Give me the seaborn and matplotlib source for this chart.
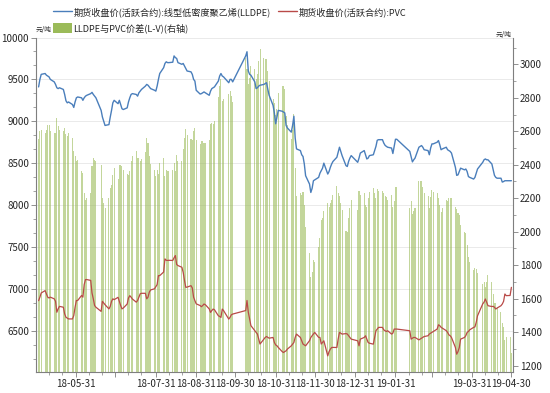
import pandas as pd
import matplotlib
matplotlib.use('Agg')
import matplotlib.pyplot as plt
import matplotlib.dates as mdates
from matplotlib.lines import Line2D
from matplotlib.patches import Patch
from matplotlib.ticker import FixedLocator, FixedFormatter, MultipleLocator, AutoMinorLocator
import seaborn as sns

# trading days 2018-05-02 .. 2019-04-30, exchange holidays removed
holidays = ['2018-06-18', '2018-09-24', '2018-10-01', '2018-10-02', '2018-10-03',
            '2018-10-04', '2018-10-05', '2018-12-31', '2019-01-01', '2019-02-04',
            '2019-02-05', '2019-02-06', '2019-02-07', '2019-02-08', '2019-04-05']

# LLDPE close (元/吨), one row per month
lldpe = [
    9410, 9500, 9560, 9570, 9550, 9540, 9530, 9500, 9470, 9440, 9400, 9390, 9400, 9380, 9320, 9245, 9220, 9230, 9200, 9165, 9230, 9280,
    9290, 9280, 9250, 9280, 9300, 9310, 9330, 9345, 9320, 9300, 9280, 9130, 9050, 9000, 8950, 8960, 9050, 9130, 9220, 9250,
    9210, 9250, 9200, 9150, 9140, 9160, 9230, 9280, 9320, 9330, 9320, 9300, 9340, 9360, 9380, 9420, 9440, 9430, 9410, 9390, 9370, 9360,
    9420, 9500, 9570, 9640, 9690, 9710, 9700, 9700, 9705, 9780, 9760, 9750, 9700, 9680, 9690, 9660, 9630, 9600, 9590, 9560, 9500, 9480, 9370,
    9325, 9330, 9340, 9350, 9340, 9310, 9360, 9390, 9400, 9410, 9480, 9540, 9570, 9540, 9530, 9460, 9500, 9500, 9470,
    9780, 9830, 9600, 9560, 9550, 9470, 9390, 9400, 9420, 9430, 9440, 9450, 9460, 9380, 9310, 9190, 9100, 8970,
    9050, 9130, 9120, 9110, 9100, 8950, 8920, 8870, 8950, 9060, 8800, 8670, 8650, 8600, 8580, 8490, 8350, 8250, 8150, 8200, 8290, 8300,
    8330, 8380, 8410, 8440, 8500, 8370, 8400, 8450, 8490, 8520, 8570, 8630, 8690, 8640, 8590, 8470, 8460, 8520, 8560, 8590,
    8510, 8560, 8620, 8650, 8600, 8550, 8560, 8590, 8600, 8650, 8700, 8773, 8780, 8780, 8740, 8713, 8700, 8690, 8680, 8615, 8700, 8785,
    8785, 8640, 8580, 8515, 8540, 8560, 8690, 8700, 8710, 8690, 8660, 8650, 8600, 8680, 8730,
    8730, 8750, 8770, 8720, 8660, 8670, 8690, 8660, 8650, 8640, 8620, 8450, 8354, 8360, 8400, 8440, 8420, 8430, 8400, 8340, 8330,
    8310, 8330, 8380, 8430, 8510, 8540, 8550, 8540, 8540, 8490, 8420, 8354, 8330, 8320, 8320, 8274, 8280, 8290, 8290, 8290, 8290,
]

# PVC close (元/吨)
pvc = [
    6858, 6900, 6950, 6978, 6940, 6900, 6890, 6900, 6880, 6850, 6720, 6760, 6790, 6780, 6700, 6660, 6650, 6640, 6640, 6680, 6780, 6860,
    6860, 6920, 6900, 7050, 7110, 7110, 7100, 6950, 6880, 6800, 6780, 6730, 6850, 6830, 6810, 6760, 6790, 6850, 6880, 6870,
    6898, 6850, 6800, 6760, 6770, 6818, 6890, 6918, 6900, 6878, 6840, 6860, 6900, 6940, 6946, 6946, 6880, 6900, 6960, 6986, 7000, 7025,
    7050, 7157, 7157, 7200, 7357, 7340, 7338, 7340, 7338, 7370, 7397, 7290, 7277, 7257, 7197, 7100, 7017, 7020, 7037, 7010, 6900, 6858, 6820,
    6800, 6786, 6800, 6818, 6810, 6760, 6718, 6740, 6758, 6750, 6678, 6670, 6658, 6758, 6740, 6638, 6660, 6690, 6698,
    6740, 6860, 6720, 6640, 6560, 6500, 6480, 6459, 6400, 6340, 6400, 6419, 6430, 6420, 6410, 6419, 6360, 6330,
    6320, 6300, 6250, 6239, 6250, 6259, 6280, 6319, 6340, 6359, 6420, 6459, 6419, 6380, 6340, 6330, 6319, 6380, 6419, 6440, 6460, 6479,
    6420, 6419, 6340, 6360, 6379, 6199, 6250, 6280, 6299, 6300, 6299, 6400, 6479, 6470, 6459, 6465, 6460, 6439, 6420, 6399,
    6379, 6319, 6399, 6419, 6439, 6400, 6359, 6350, 6339, 6420, 6499, 6520, 6539, 6539, 6510, 6499, 6490, 6499, 6459, 6470, 6519, 6519,
    6519, 6499, 6399, 6410, 6419, 6419, 6390, 6400, 6410, 6420, 6430, 6439, 6460, 6470, 6480,
    6490, 6519, 6570, 6560, 6540, 6530, 6500, 6479, 6450, 6439, 6419, 6300, 6219, 6250, 6299, 6399, 6419, 6440, 6479, 6490, 6510,
    6539, 6545, 6600, 6678, 6820, 6840, 6878, 6840, 6798, 6788, 6790, 6780, 6758, 6770, 6798, 6818, 6850, 6938, 6918, 6920, 7017,
]

# LLDPE-PVC spread (元/吨, right axis)
spread = [
    2552, 2600, 2610, 2592, 2610, 2640, 2640, 2600, 2590, 2590, 2680, 2630, 2610, 2600, 2620, 2585, 2570, 2590, 2560, 2485, 2450, 2420,
    2430, 2360, 2350, 2230, 2190, 2200, 2230, 2395, 2440, 2430, 2420, 2400, 2200, 2170, 2140, 2200, 2260, 2280, 2340, 2380,
    2312, 2400, 2400, 2390, 2370, 2342, 2340, 2362, 2420, 2452, 2480, 2440, 2440, 2420, 2434, 2474, 2560, 2530, 2450, 2404, 2370, 2335,
    2370, 2343, 2413, 2440, 2333, 2370, 2362, 2360, 2367, 2410, 2363, 2460, 2423, 2423, 2493, 2560, 2613, 2580, 2553, 2550, 2600, 2622, 2550,
    2525, 2544, 2540, 2532, 2530, 2550, 2642, 2650, 2642, 2660, 2802, 2870, 2912, 2782, 2790, 2822, 2840, 2810, 2772,
    3040, 2970, 2880, 2920, 2990, 2970, 2910, 2941, 3020, 3090, 3040, 3031, 3030, 2960, 2900, 2790, 2770, 2700,
    2730, 2830, 2870, 2871, 2850, 2691, 2640, 2551, 2610, 2701, 2380, 2211, 2231, 2220, 2240, 2160, 2031, 1870, 1731, 1760, 1830, 1821,
    1910, 1961, 2070, 2080, 2121, 2171, 2150, 2170, 2191, 2220, 2271, 2230, 2211, 2170, 2131, 2005, 2000, 2081, 2140, 2191,
    2131, 2241, 2221, 2231, 2161, 2150, 2201, 2240, 2261, 2230, 2201, 2253, 2241, 2241, 2230, 2214, 2210, 2191, 2221, 2145, 2181, 2266,
    2266, 2141, 2181, 2105, 2121, 2141, 2300, 2300, 2300, 2270, 2230, 2211, 2140, 2210, 2250,
    2240, 2231, 2200, 2160, 2120, 2140, 2190, 2181, 2200, 2201, 2201, 2150, 2135, 2110, 2101, 2041, 2001, 1990, 1921, 1850, 1820,
    1771, 1785, 1780, 1752, 1690, 1700, 1672, 1700, 1742, 1702, 1630, 1574, 1572, 1550, 1522, 1456, 1430, 1352, 1372, 1370, 1273,
]

tick_dates = ['2018-05-31', '2018-06-30', '2018-07-31', '2018-08-31', '2018-09-30', '2018-10-31',
              '2018-11-30', '2018-12-31', '2019-01-31', '2019-02-28', '2019-03-31', '2019-04-30']
tick_labels = ['18-05-31', '', '18-07-31', '18-08-31', '18-09-30', '18-10-31',
               '18-11-30', '18-12-31', '19-01-31', '', '19-03-31', '19-04-30']

label_a = '期货收盘价(活跃合约):线型低密度聚乙烯(LLDPE)'
label_b = '期货收盘价(活跃合约):PVC'
label_c = 'LLDPE与PVC价差(L-V)(右轴)'

BLUE = '#4a7ebb'
RED = '#b94a48'
GREEN = '#9bbb59'
AXIS = '#7f7f7f'
TXT = '#262626'

dates = pd.bdate_range('2018-05-02', '2019-04-30')
dates = dates[~dates.isin(pd.to_datetime(holidays))]
df = pd.DataFrame({'date': dates, 'lldpe': lldpe, 'pvc': pvc, 'spread': spread})

sns.set_theme(style='white')
plt.rcParams['font.family'] = ['Noto Sans CJK SC', 'DejaVu Sans']

fig = plt.figure(figsize=(5.5, 3.93), dpi=100)
ax = fig.add_axes([36 / 550, 1 - 371.7 / 393, (512.7 - 36) / 550, (371.7 - 37.5) / 393])
ax2 = ax.twinx()
# lines above the bars
ax.set_zorder(2)
ax2.set_zorder(1)
ax.patch.set_visible(False)

# bars: spread on right axis
ax2.bar(df['date'], df['spread'], width=0.8, color=GREEN, alpha=0.6, linewidth=0)

# faint grid at the left-axis ticks, kept behind the bars
for v in range(6500, 10001, 500):
    ax2.plot([0, 1], [v, v], transform=ax.get_yaxis_transform(), color='#e6e6e6', lw=0.6, zorder=0)

sns.lineplot(data=df, x='date', y='lldpe', ax=ax, color=BLUE, lw=1.0, legend=False)
sns.lineplot(data=df, x='date', y='pvc', ax=ax, color=RED, lw=0.9, legend=False)

ax.set_xlim(mdates.date2num(pd.Timestamp('2018-04-30')), mdates.date2num(pd.Timestamp('2019-05-01')))
ax.set_ylim(6010, 10000)
ax2.set_ylim(1164, 3160)

ax.xaxis.set_major_locator(FixedLocator(mdates.date2num(pd.to_datetime(tick_dates))))
ax.xaxis.set_major_formatter(FixedFormatter(tick_labels))
minor = [pd.Timestamp(f'{m.year}-{m.month:02d}-{d}') for m in pd.to_datetime(tick_dates) for d in (10, 20)]
ax.xaxis.set_minor_locator(FixedLocator(mdates.date2num(pd.DatetimeIndex(minor))))

ax.yaxis.set_major_locator(MultipleLocator(500))
ax.yaxis.set_minor_locator(AutoMinorLocator(3))
ax2.yaxis.set_major_locator(MultipleLocator(200))
ax2.yaxis.set_minor_locator(AutoMinorLocator(2))

for a in (ax, ax2):
    a.set_xlabel('')
    a.set_ylabel('')
    a.tick_params(which='major', direction='out', length=3.5, width=0.6, color=AXIS,
                  labelsize=7, labelcolor=TXT, pad=1.5)
    a.tick_params(which='minor', direction='out', length=2, width=0.5, color=AXIS)
    for s in a.spines.values():
        s.set_visible(False)

ax.spines['left'].set_visible(True)
ax.spines['bottom'].set_visible(True)
ax2.spines['right'].set_visible(True)
for s in (ax.spines['left'], ax.spines['bottom'], ax2.spines['right']):
    s.set_color(AXIS)
    s.set_linewidth(0.8)
ax.tick_params(axis='x', which='both', bottom=True)
ax.tick_params(axis='y', which='both', left=True)
ax2.tick_params(axis='y', which='both', right=True)

# units
fig.text(36 / 550, 1 - 30 / 393, '元/吨', fontsize=4.8, color=TXT, ha='left', va='center')
fig.text(512 / 550, 1 - 35 / 393, '元/吨', fontsize=4.8, color=TXT, ha='right', va='center')

# legend: row 1 = two lines, row 2 = bars
handles = [Line2D([], [], color=BLUE, lw=1.0),
           Patch(facecolor=GREEN, edgecolor='none'),
           Line2D([], [], color=RED, lw=1.0)]
fig.legend(handles, [label_a, label_c, label_b], ncol=2, loc='upper left',
           bbox_to_anchor=(52.5 / 550, 1 - 7 / 393), frameon=False, fontsize=6.6,
           handlelength=2.1, handleheight=1.3, handletextpad=0.2, columnspacing=0.75,
           labelspacing=0.7, borderpad=0, borderaxespad=0, labelcolor=TXT)

fig.savefig('out.png', dpi=100)
